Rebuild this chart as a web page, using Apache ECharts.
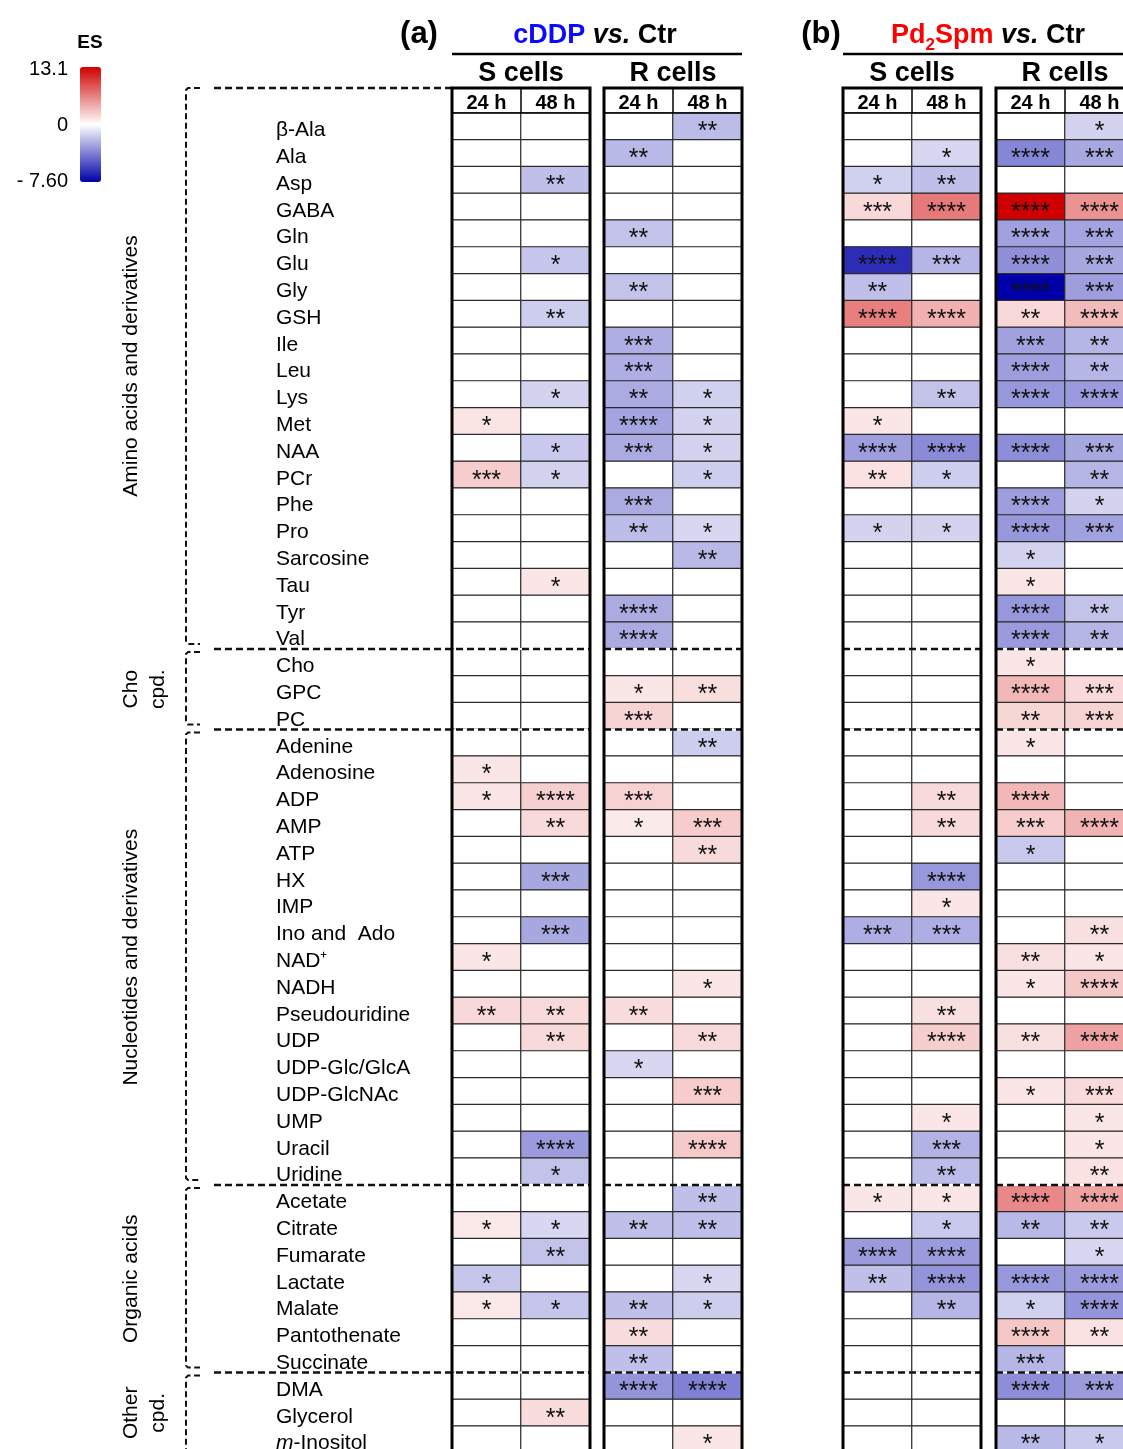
<!DOCTYPE html>
<html>
<head>
<meta charset="utf-8">
<script src="https://cdn.jsdelivr.net/npm/echarts@6/dist/echarts.min.js"></script>
<style>
  html, body { margin: 0; padding: 0; background: #ffffff; }
  #chart { width: 1123px; height: 1449px; }
</style>
</head>
<body>
<div id="chart"></div>
<script>
// ---------------------------------------------------------------------------
// Metabolites (rows, top to bottom) and their compound classes
// ---------------------------------------------------------------------------
const metabolites = [
  'β-Ala', 'Ala', 'Asp', 'GABA', 'Gln', 'Glu', 'Gly', 'GSH', 'Ile', 'Leu',
  'Lys', 'Met', 'NAA', 'PCr', 'Phe', 'Pro', 'Sarcosine', 'Tau', 'Tyr', 'Val',
  'Cho', 'GPC', 'PC',
  'Adenine', 'Adenosine', 'ADP', 'AMP', 'ATP', 'HX', 'IMP', 'Ino and  Ado', 'NAD⁺', 'NADH',
  'Pseudouridine', 'UDP', 'UDP-Glc/GlcA', 'UDP-GlcNAc', 'UMP', 'Uracil', 'Uridine',
  'Acetate', 'Citrate', 'Fumarate', 'Lactate', 'Malate', 'Pantothenate', 'Succinate',
  'DMA', 'Glycerol', 'm-Inositol'
];
const groupLabels = [['Amino acids and derivatives'], ['Cho', 'cpd.'], ['Nucleotides and derivatives'], ['Organic acids'], ['Other', 'cpd.']];
const groupSizes = [20, 3, 17, 7, 3];

const timePoints = ['24 h', '48 h'];
const cellLines = ['S cells', 'R cells'];
const esRange = { min: -7.60, max: 13.1 };

// ---------------------------------------------------------------------------
// Effect sizes (ES), one array per column (0 = not significant)
// ---------------------------------------------------------------------------
// cDDP vs. Ctr
const esCddpS24 = [
  0, 0, 0, 0, 0, 0, 0, 0, 0, 0,
  0, 1.4, 0, 2.6, 0, 0, 0, 0, 0, 0,
  0, 0, 0, 0, 1.3, 1.3, 0, 0, 0, 0,
  0, 1.3, 0, 2.0, 0, 0, 0, 0, 0, 0,
  0, 1.2, 0, -1.7, 1.2, 0, 0, 0, 0, 0
];
const esCddpS48 = [
  0, 0, -1.9, 0, 0, -1.7, 0, -1.5, 0, 0,
  -1.3, 0, -1.6, -1.3, 0, 0, 0, 1.3, 0, 0,
  0, 0, 0, 0, 0, 2.4, 1.9, 0, -2.6, 0,
  -2.6, 0, 0, 1.9, 1.9, 0, 0, 0, -3.0, -1.8,
  0, -1.2, -1.8, 0, -1.7, 0, 0, 0, 1.8, 0
];
const esCddpR24 = [
  0, -2.1, 0, 0, -1.8, 0, -1.8, 0, -2.4, -2.4,
  -2.5, -2.7, -2.5, 0, -2.5, -2.0, 0, 0, -2.5, -2.5,
  0, 1.3, 2.2, 0, 0, 2.3, 1.1, 0, 0, 0,
  0, 0, 0, 1.8, 0, -1.2, 0, 0, 0, 0,
  0, -1.9, 0, 0, -1.9, 1.8, -1.9, -3.2, 0, 0
];
const esCddpR48 = [
  -2.0, 0, 0, 0, 0, 0, 0, 0, 0, 0,
  -1.4, -1.3, -1.3, -1.5, 0, -1.2, -2.1, 0, 0, 0,
  0, 1.7, 0, -1.5, 0, 0, 2.6, 1.9, 0, 0,
  0, 0, 1.3, 0, 1.9, 0, 2.6, 0, 2.7, 0,
  -1.9, -1.9, 0, -1.2, -1.5, 0, 0, -3.8, 0, 1.3
];
// Pd2Spm vs. Ctr
const esPdS24 = [
  0, 0, -1.4, 2.0, 0, -6.3, -1.9, 6.6, 0, 0,
  0, 1.3, -2.9, 1.5, 0, -1.3, 0, 0, 0, 0,
  0, 0, 0, 0, 0, 0, 0, 0, 0, 0,
  -2.4, 0, 0, 0, 0, 0, 0, 0, 0, 0,
  1.3, 0, -3.0, -1.9, 0, 0, 0, 0, 0, 0
];
const esPdS48 = [
  0, -1.2, -1.9, 6.9, 0, -2.2, 0, 4.0, 0, 0,
  -1.8, 0, -3.5, -1.5, 0, -1.3, 0, 0, 0, 0,
  0, 0, 0, 0, 0, 1.9, 1.9, 0, -3.1, 1.3,
  -2.4, 0, 0, 1.6, 2.5, 0, 0, 1.3, -2.3, -2.0,
  1.3, -1.6, -3.0, -3.2, -2.2, 0, 0, 0, 0, 0
];
const esPdR24 = [
  0, -3.6, 0, 13.1, -2.8, -3.3, -7.6, 2.0, -2.8, -2.9,
  -3.1, 0, -3.4, 0, -2.9, -3.1, -1.3, 1.3, -3.1, -3.0,
  1.3, 3.7, 2.1, 1.3, 0, 3.7, 2.6, -1.6, 0, 0,
  0, 1.6, 1.3, 0, 1.6, 0, 1.3, 0, 0, 0,
  6.1, -2.1, 0, -3.1, -1.4, 2.9, -2.2, -3.4, 0, -2.1
];
const esPdR48 = [
  -1.3, -2.6, 0, 5.6, -2.7, -2.6, -2.9, 3.5, -2.2, -2.2,
  -3.0, 0, -2.6, -2.2, -1.3, -2.8, 0, 0, -1.8, -2.2,
  0, 2.0, 2.2, 0, 0, 0, 3.9, 0, 0, 0,
  1.6, 1.3, 2.8, 0, 4.8, 0, 1.9, 1.3, 1.3, 1.5,
  4.8, -1.6, -1.2, -3.0, -3.2, 1.5, 0, -3.0, 0, -1.6
];

// ---------------------------------------------------------------------------
// Significance level (number of asterisks) per cell
// ---------------------------------------------------------------------------
const sigCddpS24 = [
  0, 0, 0, 0, 0, 0, 0, 0, 0, 0,
  0, 1, 0, 3, 0, 0, 0, 0, 0, 0,
  0, 0, 0, 0, 1, 1, 0, 0, 0, 0,
  0, 1, 0, 2, 0, 0, 0, 0, 0, 0,
  0, 1, 0, 1, 1, 0, 0, 0, 0, 0
];
const sigCddpS48 = [
  0, 0, 2, 0, 0, 1, 0, 2, 0, 0,
  1, 0, 1, 1, 0, 0, 0, 1, 0, 0,
  0, 0, 0, 0, 0, 4, 2, 0, 3, 0,
  3, 0, 0, 2, 2, 0, 0, 0, 4, 1,
  0, 1, 2, 0, 1, 0, 0, 0, 2, 0
];
const sigCddpR24 = [
  0, 2, 0, 0, 2, 0, 2, 0, 3, 3,
  2, 4, 3, 0, 3, 2, 0, 0, 4, 4,
  0, 1, 3, 0, 0, 3, 1, 0, 0, 0,
  0, 0, 0, 2, 0, 1, 0, 0, 0, 0,
  0, 2, 0, 0, 2, 2, 2, 4, 0, 0
];
const sigCddpR48 = [
  2, 0, 0, 0, 0, 0, 0, 0, 0, 0,
  1, 1, 1, 1, 0, 1, 2, 0, 0, 0,
  0, 2, 0, 2, 0, 0, 3, 2, 0, 0,
  0, 0, 1, 0, 2, 0, 3, 0, 4, 0,
  2, 2, 0, 1, 1, 0, 0, 4, 0, 1
];
const sigPdS24 = [
  0, 0, 1, 3, 0, 4, 2, 4, 0, 0,
  0, 1, 4, 2, 0, 1, 0, 0, 0, 0,
  0, 0, 0, 0, 0, 0, 0, 0, 0, 0,
  3, 0, 0, 0, 0, 0, 0, 0, 0, 0,
  1, 0, 4, 2, 0, 0, 0, 0, 0, 0
];
const sigPdS48 = [
  0, 1, 2, 4, 0, 3, 0, 4, 0, 0,
  2, 0, 4, 1, 0, 1, 0, 0, 0, 0,
  0, 0, 0, 0, 0, 2, 2, 0, 4, 1,
  3, 0, 0, 2, 4, 0, 0, 1, 3, 2,
  1, 1, 4, 4, 2, 0, 0, 0, 0, 0
];
const sigPdR24 = [
  0, 4, 0, 4, 4, 4, 4, 2, 3, 4,
  4, 0, 4, 0, 4, 4, 1, 1, 4, 4,
  1, 4, 2, 1, 0, 4, 3, 1, 0, 0,
  0, 2, 1, 0, 2, 0, 1, 0, 0, 0,
  4, 2, 0, 4, 1, 4, 3, 4, 0, 2
];
const sigPdR48 = [
  1, 3, 0, 4, 3, 3, 3, 4, 2, 2,
  4, 0, 3, 2, 1, 3, 0, 0, 2, 2,
  0, 3, 3, 0, 0, 0, 4, 0, 0, 0,
  2, 1, 4, 0, 4, 0, 3, 1, 1, 2,
  4, 2, 1, 4, 4, 2, 0, 3, 0, 1
];

// ---------------------------------------------------------------------------
// Layout
// ---------------------------------------------------------------------------
const FONT = "'Liberation Sans', Arial, Helvetica, sans-serif";
const GRID_TOP = 113;
const ROW_H = 26.8;
const HEADER_H = 25;
const BLOCK_LEFT = [452, 604, 843, 996];
const BLOCK_W = 138;
const BRACKET_X = 186;
const SEP_START_X = 214;

// four blocks: cDDP S, cDDP R, Pd2Spm S, Pd2Spm R
const blocks = [
  { es: [esCddpS24, esCddpS48], sig: [sigCddpS24, sigCddpS48] },
  { es: [esCddpR24, esCddpR48], sig: [sigCddpR24, sigCddpR48] },
  { es: [esPdS24, esPdS48], sig: [sigPdS24, sigPdS48] },
  { es: [esPdR24, esPdR48], sig: [sigPdR24, sigPdR48] }
];

// diverging scale: negative ES scaled by |min|, positive by max (0 sits mid-bar)
function scaled(v) {
  if (v < 0) return v / -esRange.min;
  if (v > 0) return v / esRange.max;
  return 0;
}

const option = {
  animation: false,
  backgroundColor: '#ffffff',
  grid: BLOCK_LEFT.map(l => ({
    left: l, top: GRID_TOP, width: BLOCK_W, height: ROW_H * metabolites.length,
    show: false, containLabel: false, outerBoundsMode: 'none'
  })),
  xAxis: blocks.map((b, i) => ({
    type: 'category', gridIndex: i, data: timePoints, position: 'top',
    axisLine: { show: false }, axisTick: { show: false }, splitLine: { show: false },
    axisLabel: { interval: 0, margin: 0, color: '#000', fontFamily: FONT, fontWeight: 'bold', fontSize: 20 }
  })),
  yAxis: blocks.map((b, i) => ({
    type: 'category', gridIndex: i, data: metabolites, inverse: true,
    axisLine: { show: false }, axisTick: { show: false }, splitLine: { show: false },
    axisLabel: i === 0 ? {
      interval: 0, align: 'left', margin: 176, color: '#000', fontFamily: FONT, fontSize: 21,
      padding: [8, 0, 0, 0],
      formatter: v => v === 'm-Inositol' ? '{i|m}-Inositol' : v,
      rich: { i: { fontStyle: 'italic', fontFamily: FONT, fontSize: 21, color: '#000' } }
    } : { show: false }
  })),
  visualMap: {
    type: 'continuous', min: -1, max: 1, dimension: 2, seriesIndex: [0, 1, 2, 3],
    orient: 'vertical', left: 80, top: 67, itemWidth: 21, itemHeight: 115, padding: 0,
    calculable: false, hoverLink: false, realtime: false,
    inRange: { color: ['#0000a8', '#ffffff', '#d00000'] }
  },
  series: blocks.map((b, i) => {
    const data = [];
    for (let c = 0; c < 2; c++) {
      for (let r = 0; r < metabolites.length; r++) {
        data.push([c, r, scaled(b.es[c][r])]);
      }
    }
    return {
      type: 'heatmap', xAxisIndex: i, yAxisIndex: i, data: data,
      itemStyle: { borderColor: '#2b2b2b', borderWidth: 1.2 },
      emphasis: { disabled: true },
      label: {
        show: true, color: '#111', fontFamily: FONT, fontSize: 25, offset: [0, 6],
        formatter: p => '*'.repeat(b.sig[p.value[0]][p.value[1]])
      }
    };
  })
};

const chart = echarts.init(document.getElementById('chart'), null, { renderer: 'canvas' });
chart.setOption(option);

// ---------------------------------------------------------------------------
// Frames, header boxes, group brackets and titles (positions from the axes)
// ---------------------------------------------------------------------------
const N = metabolites.length;
const yPix = k => chart.convertToPixel({ yAxisIndex: 0 }, k);
const rowEdge = k => {
  if (k === 0) return yPix(0) - (yPix(1) - yPix(0)) / 2;
  if (k === N) return yPix(N - 1) + (yPix(N - 1) - yPix(N - 2)) / 2;
  return (yPix(k - 1) + yPix(k)) / 2;
};
const blockEdges = blocks.map((b, i) => {
  const x0 = chart.convertToPixel({ xAxisIndex: i }, 0);
  const x1 = chart.convertToPixel({ xAxisIndex: i }, 1);
  const half = (x1 - x0) / 2;
  return { L: x0 - half, M: x0 + half, R: x1 + half };
});

const tableTop = rowEdge(0);
const tableBottom = rowEdge(N);
const headTop = tableTop - HEADER_H;
const g = [];
const Z = 100;

blockEdges.forEach(e => {
  g.push({ type: 'line', z: Z, shape: { x1: e.L, y1: tableTop, x2: e.R, y2: tableTop }, style: { stroke: '#000', lineWidth: 1.5 } });
  g.push({ type: 'line', z: Z, shape: { x1: e.M, y1: headTop, x2: e.M, y2: tableTop }, style: { stroke: '#000', lineWidth: 1.5 } });
  g.push({ type: 'rect', z: Z + 2, shape: { x: e.L, y: headTop, width: e.R - e.L, height: tableBottom - headTop }, style: { fill: 'none', stroke: '#000', lineWidth: 3 } });
});

// group separators and brackets
const dash = [7, 4];
let startRow = 0;
const boundaries = [];
groupSizes.forEach(n => { startRow += n; boundaries.push(startRow); });
boundaries.slice(0, -1).forEach(k => {
  const y = rowEdge(k);
  blockEdges.forEach((e, i) => {
    g.push({ type: 'line', z: Z, shape: { x1: e.L + 2, y1: y, x2: e.R - 2, y2: y }, style: { stroke: '#fff', lineWidth: 2 } });
    g.push({ type: 'line', z: Z + 1, shape: { x1: i === 0 ? SEP_START_X : e.L, y1: y, x2: e.R, y2: y }, style: { stroke: '#111', lineWidth: 2.5, lineDash: dash } });
  });
});
g.push({ type: 'line', z: Z, shape: { x1: SEP_START_X, y1: headTop, x2: blockEdges[0].L, y2: headTop }, style: { stroke: '#111', lineWidth: 2.5, lineDash: dash } });

let rowStart = 0;
groupSizes.forEach((n, gi) => {
  const yTop = gi === 0 ? headTop : rowEdge(rowStart) + 3;
  const yEnd = gi === groupSizes.length - 1 ? tableBottom + 10 : rowEdge(rowStart + n) - 5;
  g.push({
    type: 'polyline', z: Z,
    shape: { points: [[BRACKET_X + 14, yTop], [BRACKET_X + 2, yTop], [BRACKET_X, yTop + 2], [BRACKET_X, yEnd - 2], [BRACKET_X + 2, yEnd], [BRACKET_X + 14, yEnd]] },
    style: { fill: 'none', stroke: '#111', lineWidth: 2, lineDash: [6, 3.5] }
  });
  const yMid = (rowEdge(rowStart) + rowEdge(rowStart + n)) / 2 + (gi === 0 ? -15 : 0);
  const lines = groupLabels[gi];
  g.push({
    type: 'text', z: Z, x: lines.length > 1 ? 145 : 131, y: yMid, rotation: Math.PI / 2,
    style: {
      text: lines.join('\n'), fill: '#000', font: '21px ' + FONT, lineHeight: 27,
      textAlign: 'center', textVerticalAlign: 'middle', align: 'center', verticalAlign: 'middle'
    }
  });
  rowStart += n;
});

// panel titles
function txt(x, y, text, size, weight) {
  return {
    type: 'text', z: Z, x: x, y: y,
    style: {
      text: text, fill: '#000', font: (weight || 'normal') + ' ' + size + 'px ' + FONT,
      textAlign: 'center', textVerticalAlign: 'middle', align: 'center', verticalAlign: 'middle'
    }
  };
}
const boldRich = (color, size, style) => ({ fill: color, fontFamily: FONT, fontWeight: 'bold', fontSize: size, fontStyle: style || 'normal', lineHeight: 30, verticalAlign: 'bottom' });

const panelA = { L: blockEdges[0].L, R: blockEdges[1].R };
const panelB = { L: blockEdges[2].L, R: blockEdges[3].R };

g.push(txt(419, 34, '(a)', 31, 'bold'));
g.push(txt(821, 34, '(b)', 31, 'bold'));
g.push({
  type: 'text', z: Z, x: (panelA.L + panelA.R) / 2 - 2, y: 34,
  style: {
    text: '{c|cDDP }{i|vs.}{k| Ctr}', textAlign: 'center', textVerticalAlign: 'middle', align: 'center', verticalAlign: 'middle',
    rich: { c: boldRich('#0a0aff', 27), i: boldRich('#000', 27, 'italic'), k: boldRich('#000', 27) }
  }
});
g.push({
  type: 'text', z: Z, x: 988, y: 34,
  style: {
    text: '{c|Pd}{s|2}{c|Spm }{i|vs.}{k| Ctr}', textAlign: 'center', textVerticalAlign: 'middle', align: 'center', verticalAlign: 'middle',
    rich: {
      c: boldRich('#ff0000', 27), i: boldRich('#000', 27, 'italic'), k: boldRich('#000', 27),
      s: { fill: '#ff0000', fontFamily: FONT, fontWeight: 'bold', fontSize: 17, lineHeight: 17, verticalAlign: 'bottom', padding: [0, 0, -5, 0] }
    }
  }
});
g.push({ type: 'line', z: Z, shape: { x1: panelA.L, y1: 54, x2: panelA.R, y2: 54 }, style: { stroke: '#000', lineWidth: 2.5 } });
g.push({ type: 'line', z: Z, shape: { x1: panelB.L, y1: 54, x2: panelB.R + 20, y2: 54 }, style: { stroke: '#000', lineWidth: 2.5 } });
blockEdges.forEach((e, i) => {
  g.push(txt((e.L + e.R) / 2, 74, cellLines[i % 2], 27, 'bold'));
});

// colour bar captions
g.push(txt(90, 43, 'ES', 19, 'bold'));
[[69, esRange.max.toFixed(1)], [125, '0'], [181, '- ' + (-esRange.min).toFixed(2)]].forEach(([y, t]) => {
  g.push({
    type: 'text', z: Z, x: 68, y: y,
    style: { text: t, fill: '#000', font: '20px ' + FONT, textAlign: 'right', textVerticalAlign: 'middle', align: 'right', verticalAlign: 'middle' }
  });
});

chart.setOption({ graphic: { elements: g } });
</script>
</body>
</html>
